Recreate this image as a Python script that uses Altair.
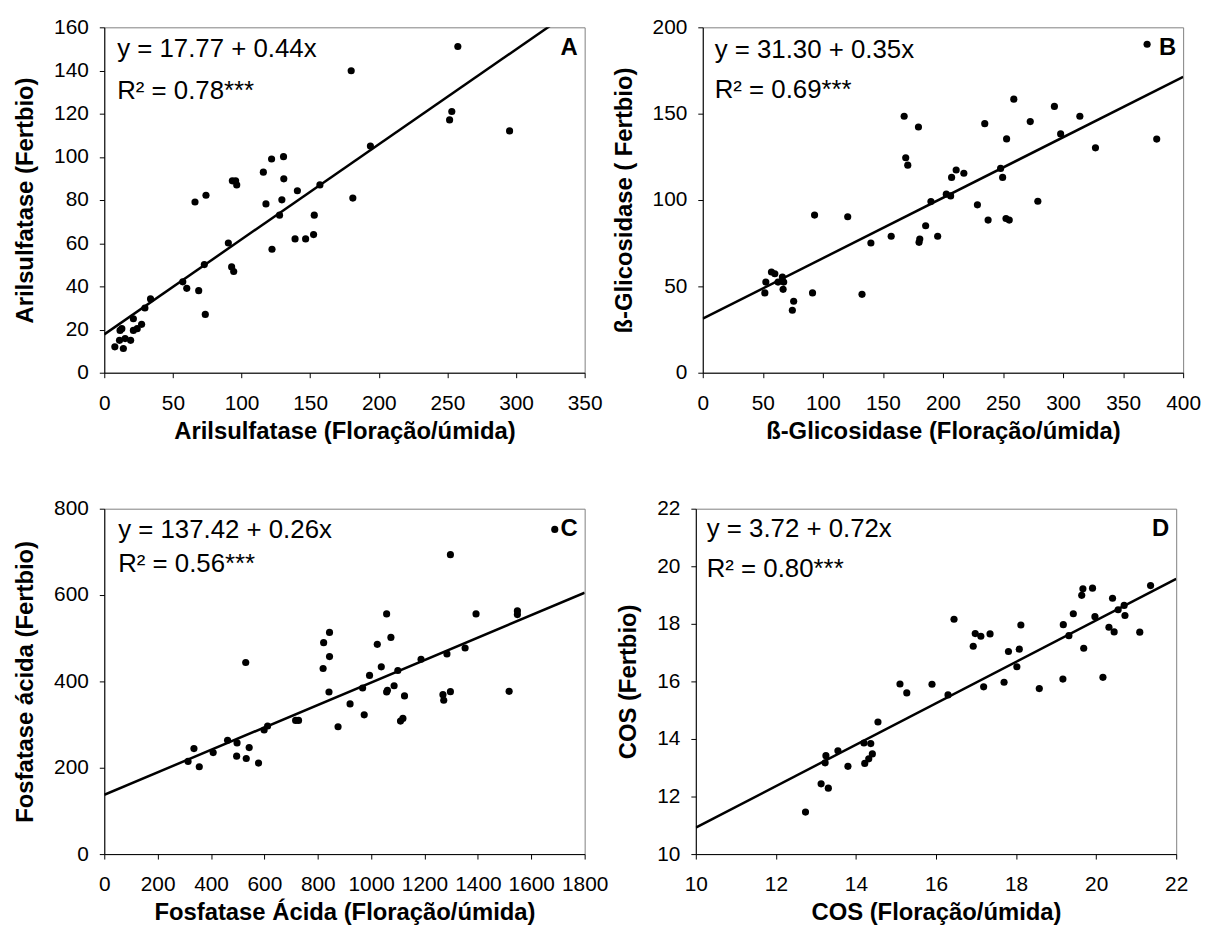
import altair as alt
import pandas as pd

# ---- Panel A: Arilsulfatase ----
a_x = [7.7, 11.1, 11.5, 12.8, 13.9, 15.2, 19.2, 21.2, 21.2, 24.0, 27.2, 29.6, 33.7, 57.2, 60.1,
       66.1, 68.8, 72.9, 74.1, 73.6, 90.4, 92.8, 94.3, 93.3, 95.7, 96.5, 115.9, 117.8, 121.9, 122.2,
       127.7, 129.4, 130.6, 130.8, 139.0, 140.7, 146.7, 152.5, 153.0, 157.1, 179.9, 181.1, 193.9,
       251.6, 253.2, 257.6, 295.3]
a_y = [12.0, 15.0, 19.6, 20.4, 11.2, 15.8, 15.0, 19.6, 25.0, 20.4, 22.4, 30.0, 34.2, 42.1, 39.1,
       79.1, 38.0, 50.1, 82.2, 27.0, 60.1, 49.0, 46.9, 88.9, 88.9, 87.0, 92.9, 78.2, 99.0, 57.2,
       73.0, 80.1, 100.1, 89.8, 62.0, 84.3, 62.0, 64.0, 73.0, 87.0, 139.9, 80.9, 105.0,
       117.1, 121.0, 151.1, 112.0]

# ---- Panel B: ß-Glicosidase ----
b_x = [51.7, 52.5, 57.2, 60.0, 62.7, 66.3, 67.4, 66.9, 75.7, 74.6, 91.4, 93.1, 120.7, 132.6, 140.0,
       156.9, 167.7, 169.0, 170.7, 179.6, 180.1, 180.7, 185.6, 190.0, 195.6, 202.8, 206.4, 207.2,
       211.0, 217.4, 228.7, 234.8, 237.6, 248.0, 249.7, 252.5, 255.2, 253.0, 259.0, 272.7, 279.0,
       292.8, 298.0, 314.0, 327.0, 370.0, 378.0]
b_y = [46.2, 52.5, 58.3, 57.3, 52.5, 55.4, 52.5, 48.3, 41.4, 36.2, 46.2, 91.3, 90.3, 45.4, 75.1,
       79.0, 148.5, 124.5, 120.2, 142.3, 75.5, 77.4, 85.1, 99.1, 79.0, 103.4, 102.4, 113.1,
       117.4, 115.5, 97.2, 144.2, 88.4, 118.3, 113.1, 89.3, 88.4, 135.4, 158.4, 145.4, 99.3,
       154.2, 138.3, 148.5, 130.2, 190.2, 135.3]

# ---- Panel C: Fosfatase ácida ----
c_x = [314, 336, 356, 408, 462, 497.5, 496, 530, 532, 543, 578, 599, 612, 717, 728, 820, 822, 844,
       844, 842, 876, 921, 968, 974, 994, 1023, 1038, 1058, 1061, 1058, 1074, 1086, 1100, 1125,
       1110, 1119, 1187, 1269, 1272, 1284, 1297, 1297, 1352, 1393, 1517, 1548, 1548, 1688]
c_y = [214.6, 244.4, 202.3, 235.2, 263.6, 257.5, 226.8, 443.7, 221.5, 246.7, 210.7, 287.4, 296.6,
       309.6, 309.6, 429.9, 489.7, 513.4, 457.5, 375.5, 295.0, 347.9, 384.7, 322.6, 413.8, 485.8,
       433.7, 375.5, 379.3, 556.3, 501.9, 390.0, 425.3, 366.3, 308.0, 314.2, 451.3, 369.3, 356.3,
       463.6, 693.5, 376.2, 477.4, 556.3, 377.0, 563.2, 554.8, 752.0]

# ---- Panel D: COS ----
d_x = [12.74, 13.13, 13.31, 13.23, 13.25, 13.55, 13.80, 14.20, 14.22, 14.37, 14.32, 14.41, 14.55,
       15.10, 15.27, 15.90, 16.30, 16.45, 16.93, 16.98, 17.12, 17.19, 17.35, 17.70, 17.81, 18.02,
       18.08, 18.12, 18.58, 19.17, 19.18, 19.32, 19.43, 19.64, 19.67, 19.69, 19.91, 19.97, 20.17,
       20.32, 20.41, 20.45, 20.55, 20.70, 20.72, 21.09, 21.36]
d_y = [11.46, 12.44, 12.29, 13.17, 13.42, 13.59, 13.05, 13.86, 13.15, 13.84, 13.31, 13.48, 14.59,
       15.91, 15.60, 15.90, 15.53, 18.16, 17.22, 17.66, 17.57, 15.81, 17.65, 15.97, 17.04, 16.51,
       17.12, 17.96, 15.75, 16.08, 17.97, 17.59, 18.35, 18.99, 19.22, 17.15, 19.24, 18.25, 16.14,
       17.88, 18.89, 17.72, 18.49, 18.64, 18.29, 17.71, 19.33]

# regression coefficients (intercept, slope) as printed
intercepts = [17.77, 31.30, 137.42, 3.72]
slopes = [0.44, 0.35, 0.26, 0.72]
equations = ["y = 17.77 + 0.44x", "y = 31.30 + 0.35x", "y = 137.42 + 0.26x", "y = 3.72 + 0.72x"]
r2_labels = ["R² = 0.78***", "R² = 0.69***", "R² = 0.56***", "R² = 0.80***"]
letters = ["A", "B", "C", "D"]
x_titles = ["Arilsulfatase (Floração/úmida)", "ß-Glicosidase (Floração/úmida)",
            "Fosfatase Ácida (Floração/úmida)", "COS (Floração/úmida)"]
y_titles = ["Arilsulfatase (Fertbio)", "ß-Glicosidase ( Fertbio)",
            "Fosfatase ácida (Fertbio)", "COS (Fertbio)"]
x_domains = [[0, 350], [0, 400], [0, 1800], [10, 22]]
y_domains = [[0, 160], [0, 200], [0, 800], [10, 22]]
x_ticks = [list(range(0, 351, 50)), list(range(0, 401, 50)), list(range(0, 1801, 200)), list(range(10, 23, 2))]
y_ticks = [list(range(0, 161, 20)), list(range(0, 201, 50)), list(range(0, 801, 200)), list(range(10, 23, 2))]

FONT = "Liberation Sans"
W, H = 484, 348
eq_pos = [(13, 22, 64), (12, 23, 63), (14, 22, 56), (11, 21, 61)]


def panel(i, xs, ys):
    df = pd.DataFrame({"x": xs, "y": ys})
    xsc = alt.Scale(domain=x_domains[i], nice=False, zero=False)
    ysc = alt.Scale(domain=y_domains[i], nice=False, zero=False)
    pts = alt.Chart(df).mark_circle(size=52, color="black", opacity=1).encode(
        x=alt.X("x:Q", scale=xsc,
                axis=alt.Axis(values=x_ticks[i], title=x_titles[i], format="d",
                              labelOverlap=False, labelFlush=False)),
        y=alt.Y("y:Q", scale=ysc,
                axis=alt.Axis(values=y_ticks[i], title=y_titles[i], format="d",
                              labelOverlap=False, labelFlush=False)),
    )
    lx = x_domains[i]
    ldf = pd.DataFrame({"x": lx, "y": [intercepts[i] + slopes[i] * v for v in lx]})
    line = alt.Chart(ldf).mark_line(color="black", strokeWidth=2.5, clip=True).encode(
        x=alt.X("x:Q", scale=xsc), y=alt.Y("y:Q", scale=ysc)
    )
    ex, ey1, ey2 = eq_pos[i]
    eq = alt.Chart(pd.DataFrame({"t": [equations[i]]})).mark_text(
        align="left", baseline="middle", font=FONT, fontSize=26, color="black"
    ).encode(x=alt.value(ex), y=alt.value(ey1), text="t:N")
    r2 = alt.Chart(pd.DataFrame({"t": [r2_labels[i]]})).mark_text(
        align="left", baseline="middle", font=FONT, fontSize=26, color="black"
    ).encode(x=alt.value(ex), y=alt.value(ey2), text="t:N")
    let = alt.Chart(pd.DataFrame({"t": [letters[i]]})).mark_text(
        align="right", baseline="middle", font=FONT, fontSize=24, fontWeight="bold", color="black"
    ).encode(x=alt.value(W - 7), y=alt.value(21), text="t:N")
    return alt.layer(line, pts, eq, r2, let).properties(width=W, height=H)


pA = panel(0, a_x, a_y)
pB = panel(1, b_x, b_y)
pC = panel(2, c_x, c_y)
pD = panel(3, d_x, d_y)

chart = alt.vconcat(
    alt.hconcat(pA, pB, spacing=8),
    alt.hconcat(pC, pD, spacing=8),
    spacing=53,
).properties(
    padding={"left": 5, "top": 4, "right": 0, "bottom": 0}
).configure_view(
    stroke="#808080", strokeWidth=1
).configure_axis(
    grid=False,
    labelFont=FONT, labelFontSize=21, labelColor="black",
    titleFont=FONT, titleFontSize=24, titleFontWeight="bold", titleColor="black",
    tickSize=5, tickColor="black", domainColor="black", domainWidth=1, tickWidth=1,
).configure_axisX(
    labelPadding=15, titlePadding=6
).configure_axisY(
    labelPadding=11, titlePadding=16
)

chart.save("out.html", embed_options={"renderer": "svg", "actions": False})
